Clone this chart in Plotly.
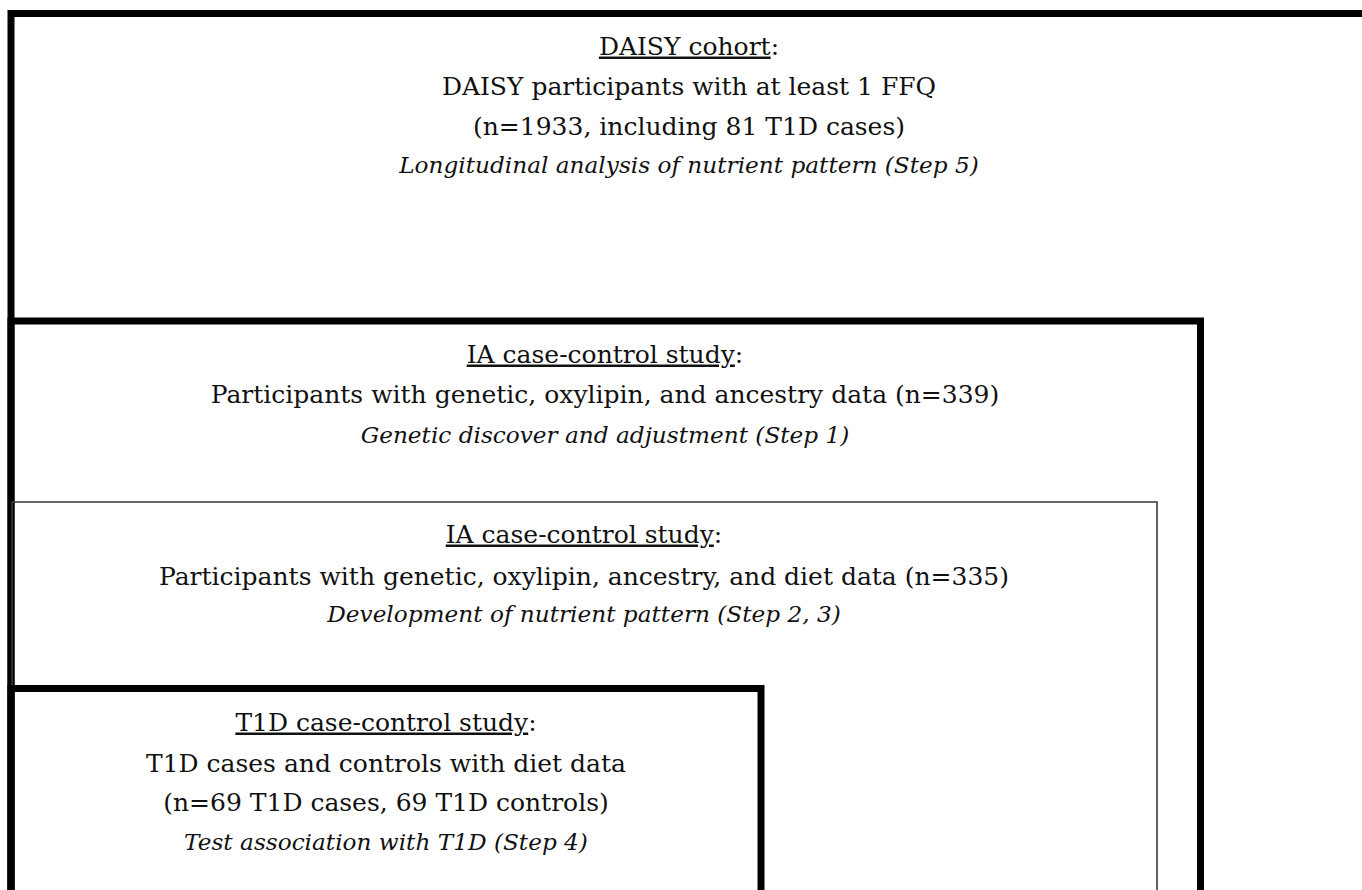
import plotly.graph_objects as go

# ---- content ----
box_titles = ["DAISY cohort", "IA case-control study", "IA case-control study", "T1D case-control study"]
box_lines = [
    ["DAISY participants with at least 1 FFQ", "(n=1933, including 81 T1D cases)"],
    ["Participants with genetic, oxylipin, and ancestry data (n=339)"],
    ["Participants with genetic, oxylipin, ancestry, and diet data (n=335)"],
    ["T1D cases and controls with diet data", "(n=69 T1D cases, 69 T1D controls)"],
]
box_steps = [
    "Longitudinal analysis of nutrient pattern (Step 5)",
    "Genetic discover and adjustment (Step 1)",
    "Development of nutrient pattern (Step 2, 3)",
    "Test association with T1D (Step 4)",
]

# ---- layout geometry (pixels, y downwards) ----
W, H = 1362, 890
boxes = [  # left, top, right, width, color
    dict(l=11, t=13.5, r=1420, w=7, c="#000000"),
    dict(l=11, t=321, r=1200.5, w=7, c="#000000"),
    dict(l=12, t=502, r=1157, w=1.6, c="#3a3a3a"),
    dict(l=11, t=688.5, r=761, w=7, c="#000000"),
]
text_cx = [689, 605, 584, 386]
# baselines of each text line per box
baselines = [
    [57, 97, 137, 175],
    [365, 405, 445],
    [545, 587, 624],
    [733, 774, 813, 852],
]

FONT = "DejaVu Serif"
FS_R = 25
FS_I = 23.2

fig = go.Figure()

for b in boxes:
    xs = [b["l"], b["l"], b["r"], b["r"]]
    ys = [H + 50, b["t"], b["t"], H + 50]
    fig.add_trace(go.Scatter(x=xs, y=ys, mode="lines",
                             line=dict(color=b["c"], width=b["w"]),
                             hoverinfo="skip", showlegend=False))

rx, ry, rt = [], [], []
ix, iy, it = [], [], []
for i in range(len(box_titles)):
    lines = ["<u>%s</u>:" % box_titles[i]] + box_lines[i]
    for j, s in enumerate(lines):
        rx.append(text_cx[i])
        ry.append(baselines[i][j] - 0.35 * FS_R)
        rt.append(s)
    ix.append(text_cx[i])
    iy.append(baselines[i][-1] - 0.35 * FS_I)
    it.append("<i>%s</i>" % box_steps[i])

fig.add_trace(go.Scatter(x=rx, y=ry, text=rt, mode="text",
                         textposition="middle center",
                         textfont=dict(family=FONT, size=FS_R, color="#111111"),
                         hoverinfo="skip", showlegend=False))
fig.add_trace(go.Scatter(x=ix, y=iy, text=it, mode="text",
                         textposition="middle center",
                         textfont=dict(family=FONT, size=FS_I, color="#111111"),
                         hoverinfo="skip", showlegend=False))

fig.update_layout(
    width=W, height=H,
    margin=dict(l=0, r=0, t=0, b=0),
    paper_bgcolor="white", plot_bgcolor="white",
    xaxis=dict(range=[0, W], visible=False, fixedrange=True),
    yaxis=dict(range=[H, 0], visible=False, fixedrange=True),
)

fig.write_html("out.html", post_script="document.body.style.margin='0';",
               config={"displayModeBar": False})
